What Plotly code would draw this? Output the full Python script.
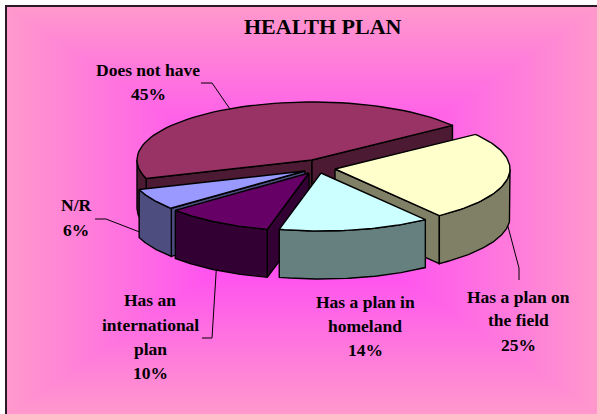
import math
import numpy as np
import plotly.graph_objects as go

# ---- data ----
categories = ["Has a plan on the field", "Has a plan in homeland",
              "Has an international plan", "N/R", "Does not have"]
values = [25, 14, 10, 6, 45]

# ---- look ----
top_colors = ["#FFFFCC", "#CCFFFF", "#660066", "#9999FF", "#993366"]
wall_colors = ["#808066", "#668080", "#330033", "#4D4D80", "#4D1A33"]
apex_x = [335, 321, 309, 305, 312]
apex_y = [169, 173, 173, 171, 160]
draw_order = [4, 3, 2, 0, 1]
START_DEG = 36.6
RX, RY, DEPTH = 175, 58, 48
W, H = 597, 414

# slice angles from values (clockwise, on the tilted ellipse)
total = sum(values)
spans = []
a = START_DEG
for v in values:
    b = a - 360 * v / total
    spans.append((a, b))
    a = b


def pt(i, deg, dz=0):
    t = math.radians(deg)
    return apex_x[i] + RX * math.cos(t), apex_y[i] - RY * math.sin(t) + dz


def arc(i, a0, a1, dz=0, n=60):
    return [pt(i, d, dz) for d in np.linspace(a0, a1, n)]


def poly(points, fill):
    xs = [p[0] for p in points] + [points[0][0]]
    ys = [p[1] for p in points] + [points[0][1]]
    return go.Scatter(x=xs, y=ys, mode="lines", fill="toself", fillcolor=fill,
                      line=dict(color="#000000", width=1.4), hoverinfo="skip",
                      showlegend=False)


def line(xs, ys):
    return go.Scatter(x=xs, y=ys, mode="lines", line=dict(color="#000000", width=1),
                      hoverinfo="skip", showlegend=False)


fig = go.Figure()

# background: centre-out rectangular gradient
gx = np.linspace(0, W, 200)
gy = np.linspace(0, H, 140)
X, Y = np.meshgrid(gx, gy)
Z = np.maximum(np.abs(X - 303) / 297, np.abs(Y - 210) / 205)
fig.add_trace(go.Heatmap(x=gx, y=gy, z=Z, zmin=0, zmax=1, zsmooth="best", showscale=False,
                         colorscale=[[0, "#FF33FF"], [1, "#FF99CC"]], hoverinfo="skip"))

# leader lines, anchored on the slices
fig.add_trace(line([201, 212, pt(4, 118)[0]], [83, 83, pt(4, 118)[1]]))
fig.add_trace(line([95, 106, pt(3, -152, 38)[0]], [219, 219, pt(3, -152, 38)[1]]))
fig.add_trace(line([202, 212, pt(2, -122, DEPTH)[0]], [338, 338, pt(2, -122, DEPTH)[1]]))
fig.add_trace(line([519, 519, pt(0, -9, DEPTH)[0]], [280, 268, pt(0, -9, DEPTH)[1]]))

# pie slices, back to front
for i in draw_order:
    a0, a1 = spans[i]
    apex = (apex_x[i], apex_y[i])
    apex_low = (apex_x[i], apex_y[i] + DEPTH)
    # radial walls facing the viewer
    for edge, normal in ((a0, a0 + 90), (a1, a1 - 90)):
        if math.sin(math.radians(normal)) < 0:
            fig.add_trace(poly([apex, pt(i, edge), pt(i, edge, DEPTH), apex_low], wall_colors[i]))
    # outer wall: front part of the rim only
    lo, hi = min(a0, a1), max(a0, a1)
    k = math.floor((hi + 180) / 360)
    front_lo, front_hi = max(lo, -180 + 360 * k), min(hi, 360 * k)
    if front_hi > front_lo:
        rim = arc(i, front_lo, front_hi) + arc(i, front_hi, front_lo, DEPTH)
        fig.add_trace(poly(rim, wall_colors[i]))
    # top face
    fig.add_trace(poly([apex] + arc(i, a0, a1), top_colors[i]))

# labels
FONT = "Liberation Serif"
label_lines = [
    ("Does not have", 148, 70), ("45%", 148, 94),
    ("N/R", 76, 205), ("6%", 76, 230),
    ("Has an", 150, 300), ("international", 150, 325), ("plan", 150, 349), ("10%", 150, 373),
    ("Has a plan in", 365, 302), ("homeland", 365, 326), ("14%", 365, 350),
    ("Has a plan on", 518, 297), ("the field", 518, 320), ("25%", 518, 345),
]
annotations = [dict(x=x, y=y, text=f"<b>{t}</b>", showarrow=False, xref="x", yref="y",
                    font=dict(family=FONT, size=17.5, color="#000000"))
               for t, x, y in label_lines]
annotations.append(dict(x=323, y=26, text="<b>HEALTH PLAN</b>", showarrow=False, xref="x", yref="y",
                        font=dict(family=FONT, size=22, color="#000000")))

shapes = [
    dict(type="rect", x0=0, x1=5, y0=0, y1=H, fillcolor="#FFFFFF", line=dict(width=0)),
    dict(type="rect", x0=0, x1=W, y0=0, y1=5, fillcolor="#FFFFFF", line=dict(width=0)),
    dict(type="line", x0=6, x1=6, y0=5, y1=H, line=dict(color="#2B1A24", width=2)),
    dict(type="line", x0=5, x1=W, y0=6, y1=6, line=dict(color="#2B1A24", width=2)),
]

fig.update_layout(
    width=W, height=H, autosize=False,
    margin=dict(l=0, r=0, t=0, b=0),
    paper_bgcolor="#FFFFFF", plot_bgcolor="#FFFFFF",
    xaxis=dict(range=[0, W], visible=False, fixedrange=True),
    yaxis=dict(range=[H, 0], visible=False, fixedrange=True),
    showlegend=False, annotations=annotations, shapes=shapes,
)
fig.write_html("out.html", config={"displayModeBar": False},
               default_width=W, default_height=H,
               post_script="document.body.style.margin='0';document.body.style.overflow='hidden';")
